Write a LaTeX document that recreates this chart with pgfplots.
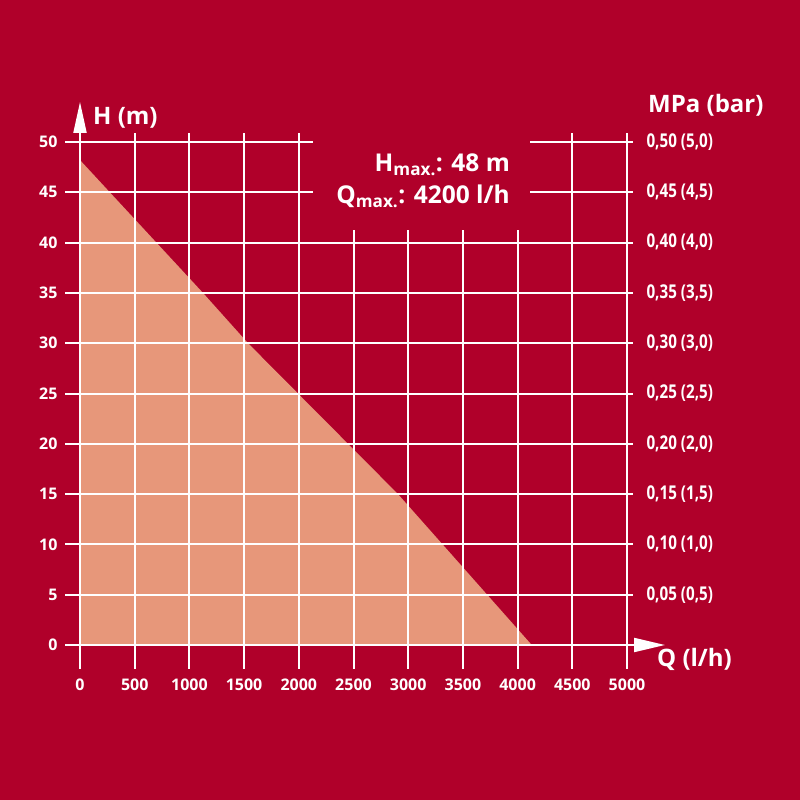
\documentclass[border=0pt]{standalone}
\usepackage{pgfplots}
\pgfplotsset{compat=1.18}
\usepackage{fontspec}
\setmainfont{Open Sans}
\newfontfamily\condfont{Open Sans}[FakeStretch=0.8]
\usetikzlibrary{arrows.meta}
\definecolor{bg}{RGB}{176,0,42}
\definecolor{salmon}{RGB}{231,151,122}

\begin{document}
\begin{tikzpicture}[x=1pt,y=1pt]
\useasboundingbox (0,0) rectangle (800,800);
\fill[bg] (0,0) rectangle (800,800);
\begin{axis}[
 at={(65pt,131pt)}, anchor=south west,
 width=568pt, height=536pt, scale only axis,
 xmin=-137.1, xmax=5054.8, ymin=-2.376, ymax=50.891,
 xtick={0,500,...,5000}, ytick={0,5,...,50},
 grid=major, grid style={white, line width=2pt},
 axis line style={draw=none}, major tick length=0pt,
 axis on top,
 tick label style={white, font=\bfseries\fontsize{16}{18}\selectfont},
 xticklabel style={anchor=north, yshift=-6pt},
 yticklabel style={anchor=east, xshift=-4pt},
 /pgf/number format/assume math mode=true,
 /pgf/number format/set thousands separator={},
 clip=false,
]
\addplot[fill=salmon, draw=none] coordinates {(0,0) (0,48.2) (1124,35) (1536,30) (2450,20) (2907,15) (4130,0)} -- cycle;
\end{axis}
\begin{axis}[
 at={(65pt,131pt)}, anchor=south west,
 width=568pt, height=536pt, scale only axis,
 xmin=-137.1, xmax=5054.8, ymin=-2.376, ymax=50.891,
 hide x axis,
 axis line style={draw=none}, major tick length=0pt,
 ytick={5,10,...,50},
 yticklabels={{0,05 (0,5)},{0,10 (1,0)},{0,15 (1,5)},{0,20 (2,0)},{0,25 (2,5)},{0,30 (3,0)},{0,35 (3,5)},{0,40 (4,0)},{0,45 (4,5)},{0,50 (5,0)}},
 yticklabel pos=right,
 yticklabel style={white, anchor=west, xshift=10pt, font=\condfont\bfseries\fontsize{19}{21}\selectfont},
]
\end{axis}
\fill[bg] (313,570) rectangle (530,680);
\node[anchor=base east, white, font=\bfseries\fontsize{24.5}{27}\selectfont, inner sep=0] at (510,628) {H\textsubscript{max.}: 48 m};
\node[anchor=base east, white, font=\bfseries\fontsize{24.5}{27}\selectfont, inner sep=0] at (510,596) {Q\textsubscript{max.}: 4200 l/h};
\draw[white, line width=2pt, -{Triangle[length=31pt,width=13pt]}] (80,660) -- (80,698);
\draw[white, line width=2pt, -{Triangle[length=31pt,width=14pt]}] (620,155) -- (665,155);
\node[anchor=base west, white, font=\bfseries\fontsize{24}{27}\selectfont, inner sep=0] at (93,675) {H (m)};
\node[anchor=base west, white, font=\bfseries\fontsize{24}{27}\selectfont, inner sep=0] at (648,687) {MPa (bar)};
\node[anchor=base west, white, font=\bfseries\fontsize{24}{27}\selectfont, inner sep=0] at (657,133) {Q (l/h)};
\end{tikzpicture}
\end{document}
